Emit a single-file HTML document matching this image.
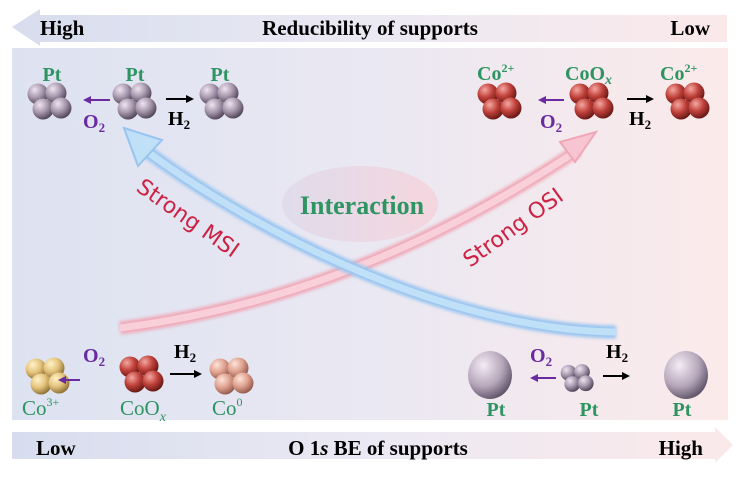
<!DOCTYPE html>
<html><head><meta charset="utf-8"><style>
body{margin:0;width:754px;height:477px;background:#fff;overflow:hidden}
svg text{font-family:"Liberation Serif",serif;font-weight:bold}
</style></head><body>
<svg width="754" height="477" viewBox="0 0 754 477" xmlns="http://www.w3.org/2000/svg">
<defs>
<linearGradient id="bg" x1="0" x2="1"><stop offset="0" stop-color="#dde2f1"/><stop offset="0.5" stop-color="#eae8f2"/><stop offset="1" stop-color="#fbeaea"/></linearGradient>
<linearGradient id="bar" x1="0" x2="1"><stop offset="0" stop-color="#d7ddee"/><stop offset="0.5" stop-color="#ebe9f3"/><stop offset="1" stop-color="#fbe9ea"/></linearGradient>
<linearGradient id="ell" x1="0" x2="1"><stop offset="0" stop-color="#e0dcec"/><stop offset="1" stop-color="#f5d6de"/></linearGradient>
<radialGradient id="pt" cx="0.35" cy="0.3" r="0.75"><stop offset="0" stop-color="#efe4f0"/><stop offset="0.5" stop-color="#a898ae"/><stop offset="1" stop-color="#4a3f52"/></radialGradient>
<radialGradient id="co" cx="0.35" cy="0.3" r="0.75"><stop offset="0" stop-color="#f3a8a0"/><stop offset="0.5" stop-color="#c0403a"/><stop offset="1" stop-color="#5e1512"/></radialGradient>
<radialGradient id="au" cx="0.35" cy="0.3" r="0.75"><stop offset="0" stop-color="#fff2c8"/><stop offset="0.5" stop-color="#e4c47c"/><stop offset="1" stop-color="#8a6a30"/></radialGradient>
<radialGradient id="cu" cx="0.35" cy="0.3" r="0.75"><stop offset="0" stop-color="#fde3d8"/><stop offset="0.5" stop-color="#e0a290"/><stop offset="1" stop-color="#8c5546"/></radialGradient>
<radialGradient id="big" cx="0.35" cy="0.3" r="0.8"><stop offset="0" stop-color="#f4ecf5"/><stop offset="0.55" stop-color="#b6a6ba"/><stop offset="1" stop-color="#4d4256"/></radialGradient>
<filter id="gl" x="-10%" y="-10%" width="120%" height="120%"><feGaussianBlur stdDeviation="1.5"/></filter>
<g id="cl"><circle cx="-10" cy="-7" r="10.5"/><circle cx="8" cy="-8" r="10.5"/><circle cx="-5" cy="8" r="10.5"/><circle cx="13" cy="7" r="10.5"/></g>
</defs>
<polygon points="12,27 40,9 40,15 727,15 727,42 40,42 40,46" fill="url(#bar)"/>
<text x="40" y="35" font-size="21">High</text>
<text x="370" y="35" font-size="21" text-anchor="middle">Reducibility of supports</text>
<text x="710" y="35" font-size="21" text-anchor="end">Low</text>
<rect x="12" y="48" width="716" height="372" fill="url(#bg)"/>
<polygon points="12,432 715,432 715,427 733,445 715,463 715,459 12,459" fill="url(#bar)"/>
<text x="36" y="455" font-size="21">Low</text>
<text x="378" y="455" font-size="21" text-anchor="middle">O 1<tspan font-style="italic">s</tspan> BE of supports</text>
<text x="703" y="455" font-size="21" text-anchor="end">High</text>
<ellipse cx="360" cy="204" rx="78" ry="38" fill="url(#ell)"/>
<text x="362" y="214" font-size="26" fill="#2e9462" text-anchor="middle">Interaction</text>
<path d="M120 328 C300 305 450 235 578 150" fill="none" stroke="#f0a8b8" stroke-width="13" filter="url(#gl)"/>
<path d="M120 328 C300 305 450 235 578 150" fill="none" stroke="#f9d0da" stroke-width="7"/>
<polygon points="560,142 596,132 575,162" fill="#f7c5d1" stroke="#f0a8b8" stroke-width="2"/>
<path d="M616 332 C450 330 260 235 145 150" fill="none" stroke="#98c4f0" stroke-width="13" filter="url(#gl)"/>
<path d="M616 332 C450 330 260 235 145 150" fill="none" stroke="#bfe0f7" stroke-width="7"/>
<polygon points="124,128 162,140 138,166" fill="#bfe0f7" stroke="#98c4f0" stroke-width="2"/>
<text font-size="22" fill="#cc2244" transform="translate(135,190) rotate(35)" style="font-weight:normal;font-family:'DejaVu Sans',sans-serif">Strong MSI</text>
<text font-size="22" fill="#cc2244" transform="translate(470,268) rotate(-36)" style="font-weight:normal;font-family:'DejaVu Sans',sans-serif">Strong OSI</text>
<g font-size="20" fill="#2e9462" text-anchor="middle"><text x="52" y="81">Pt</text><text x="135" y="81">Pt</text><text x="220" y="81">Pt</text></g>
<use href="#cl" x="48" y="101" fill="url(#pt)"/>
<use href="#cl" x="133" y="101" fill="url(#pt)"/>
<use href="#cl" x="220" y="101" fill="url(#pt)"/>
<line x1="110" y1="100" x2="88" y2="100" stroke="#6a2aa0" stroke-width="2"/><polygon points="83,100 91,96 91,104" fill="#6a2aa0"/>
<text x="83" y="128" font-size="20" fill="#6a2aa0">O<tspan font-size="13" dy="4">2</tspan></text>
<line x1="166" y1="99" x2="188" y2="99" stroke="#000" stroke-width="2"/><polygon points="194,99 186,95 186,103" fill="#000"/>
<text x="168" y="125" font-size="20">H<tspan font-size="13" dy="4">2</tspan></text>
<g font-size="20" fill="#2e9462"><text x="477" y="80">Co<tspan font-size="12" dy="-8">2+</tspan></text><text x="565" y="80">CoO<tspan font-size="14" dy="4" font-style="italic">x</tspan></text><text x="660" y="80">Co<tspan font-size="12" dy="-8">2+</tspan></text></g>
<use href="#cl" x="498" y="101" fill="url(#co)"/>
<use href="#cl" x="590" y="101" fill="url(#co)"/>
<use href="#cl" x="686" y="101" fill="url(#co)"/>
<line x1="564" y1="100" x2="545" y2="100" stroke="#6a2aa0" stroke-width="2"/><polygon points="538,100 546,96 546,104" fill="#6a2aa0"/>
<text x="540" y="128" font-size="20" fill="#6a2aa0">O<tspan font-size="13" dy="4">2</tspan></text>
<line x1="627" y1="99" x2="648" y2="99" stroke="#000" stroke-width="2"/><polygon points="654,99 646,95 646,103" fill="#000"/>
<text x="629" y="125" font-size="20">H<tspan font-size="13" dy="4">2</tspan></text>
<use href="#cl" x="46" y="376" fill="url(#au)"/>
<use href="#cl" x="140" y="374" fill="url(#co)"/>
<use href="#cl" x="230" y="376" fill="url(#cu)"/>
<line x1="80" y1="380" x2="64" y2="380" stroke="#6a2aa0" stroke-width="2"/><polygon points="58,380 66,376 66,384" fill="#6a2aa0"/>
<text x="83" y="362" font-size="20" fill="#6a2aa0">O<tspan font-size="13" dy="4">2</tspan></text>
<line x1="170" y1="374" x2="196" y2="374" stroke="#000" stroke-width="2"/><polygon points="202,374 194,370 194,378" fill="#000"/>
<text x="174" y="358" font-size="20">H<tspan font-size="13" dy="4">2</tspan></text>
<g font-size="21" fill="#2e9462"><text x="22" y="415" style="font-weight:normal">Co<tspan font-size="12" dy="-9">3+</tspan></text><text x="120" y="415" style="font-weight:normal">CoO<tspan font-size="14" dy="6" font-style="italic">x</tspan></text><text x="212" y="415" style="font-weight:normal">Co<tspan font-size="12" dy="-9">0</tspan></text></g>
<ellipse cx="490" cy="375" rx="22" ry="24" fill="url(#big)"/>
<ellipse cx="686" cy="375" rx="22" ry="24" fill="url(#big)"/>
<g transform="translate(576,378) scale(0.75)"><use href="#cl" fill="url(#pt)"/></g>
<line x1="556" y1="378" x2="536" y2="378" stroke="#6a2aa0" stroke-width="2"/><polygon points="530,378 538,374 538,382" fill="#6a2aa0"/>
<text x="530" y="362" font-size="20" fill="#6a2aa0">O<tspan font-size="13" dy="4">2</tspan></text>
<line x1="603" y1="376" x2="624" y2="376" stroke="#000" stroke-width="2"/><polygon points="630,376 622,372 622,380" fill="#000"/>
<text x="606" y="358" font-size="20">H<tspan font-size="13" dy="4">2</tspan></text>
<g font-size="20" fill="#2e9462" text-anchor="middle"><text x="496" y="416">Pt</text><text x="589" y="416">Pt</text><text x="682" y="416">Pt</text></g>
</svg>
</body></html>
